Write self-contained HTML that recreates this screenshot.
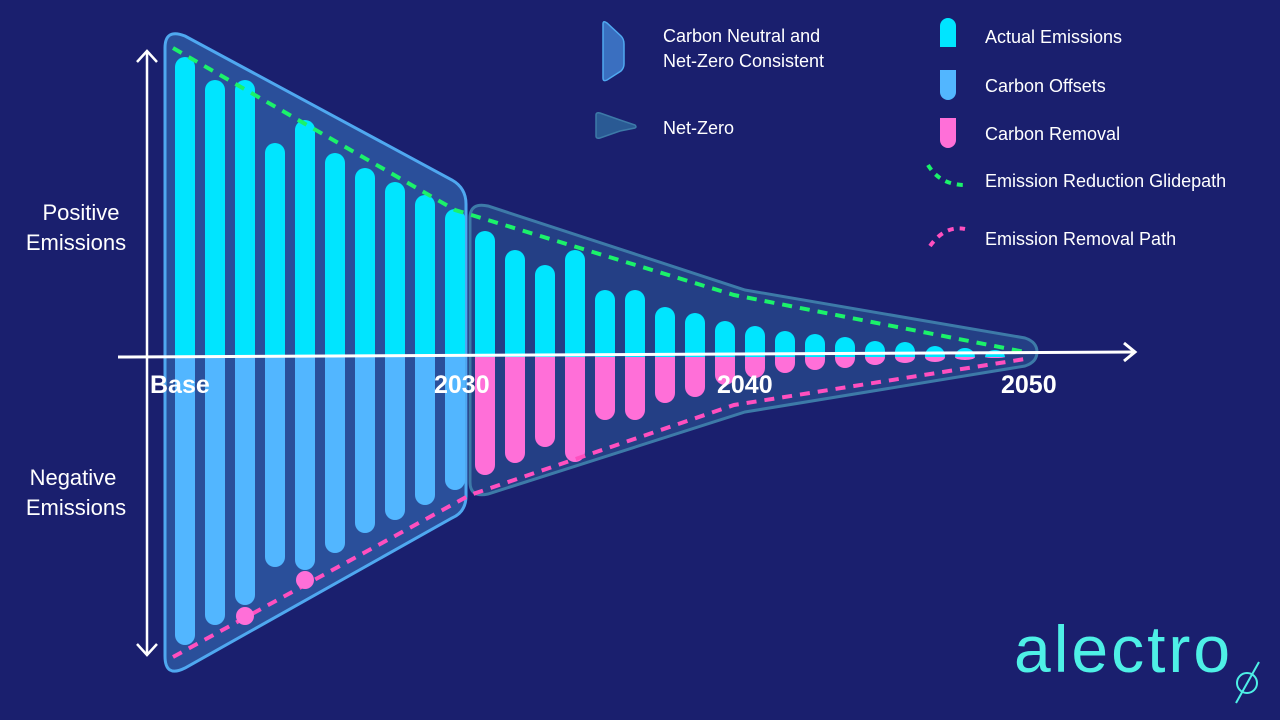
<!DOCTYPE html>
<html><head><meta charset="utf-8"><style>
html,body{margin:0;padding:0;background:#1a1f6e;}
#wrap{position:relative;width:1280px;height:720px;overflow:hidden;background:#1a1f6e;font-family:"Liberation Sans",sans-serif;}
svg text{font-family:"Liberation Sans",sans-serif;}
</style></head><body>
<div id="wrap">
<svg id="chart" width="1280" height="720" viewBox="0 0 1280 720">
  <g id="shapes">
    <path d="M165,48 Q165,28 185,36 L452,180 Q466,188 466,204 L466,496 Q466,512 452,518 L185,668 Q165,678 165,656 Z" fill="#2a4f9a" stroke="#4fa8f0" stroke-width="3"/>
    <path d="M470,218 Q470,202 488,206 L745,290 L1025,338 Q1037,342 1037,352 Q1037,362 1025,366 L745,412 L488,494 Q470,498 470,482 Z" fill="#243f85" stroke="#3d7aa8" stroke-width="3"/>
  </g>
  <g id="bars"></g>
  <g id="paths"></g>
  <g id="axes">
    <line x1="118" y1="357" x2="1134" y2="352" stroke="#fff" stroke-width="3"/>
    <polyline points="1124,343 1135,352 1124,361" fill="none" stroke="#fff" stroke-width="3"/>
    <line x1="147" y1="52" x2="147" y2="654" stroke="#fff" stroke-width="2.5"/>
    <polyline points="137,62 147,51 157,62" fill="none" stroke="#fff" stroke-width="2.5"/>
    <polyline points="137,644 147,655 157,644" fill="none" stroke="#fff" stroke-width="2.5"/>
    <text x="150" y="393" fill="#fff" font-size="25" font-weight="bold">Base</text>
    <text x="434" y="393" fill="#fff" font-size="25" font-weight="bold">2030</text>
    <text x="717" y="393" fill="#fff" font-size="25" font-weight="bold">2040</text>
    <text x="1001" y="393" fill="#fff" font-size="25" font-weight="bold">2050</text>
    <text fill="#fff" font-size="22" text-anchor="middle"><tspan x="81" y="220">Positive</tspan><tspan x="76" y="250">Emissions</tspan></text>
    <text fill="#fff" font-size="22" text-anchor="middle"><tspan x="73" y="485">Negative</tspan><tspan x="76" y="515">Emissions</tspan></text>
  </g>
  <g id="legend">
    <g>
      <path d="M603,24 Q603,20 607,23 L621,36 Q624,39 624,44 L624,64 Q624,68 621,71 L607,80 Q603,82 603,78 Z" fill="#3a6fc0" stroke="#4fa8f0" stroke-width="1.5"/>
      <text x="663" y="42" fill="#fff" font-size="18">Carbon Neutral and</text>
      <text x="663" y="67" fill="#fff" font-size="18">Net-Zero Consistent</text>
    </g>
    <g>
      <path d="M596,115 Q596,112 600,113 L620,120 L635,125 Q637,127 635,128 L620,131 L600,138 Q596,139 596,136 Z" fill="#2a5a94" stroke="#3d7aa8" stroke-width="1.5"/>
      <text x="663" y="134" fill="#fff" font-size="18">Net-Zero</text>
    </g>
    <g>
      <path d="M940,47 L940,26 A8,8 0 0 1 956,26 L956,47 Z" fill="#00e5ff"/>
      <text x="985" y="43" fill="#fff" font-size="18">Actual Emissions</text>
    </g>
    <g>
      <path d="M940,70 L956,70 L956,92 A8,8 0 0 1 940,92 Z" fill="#52b6ff"/>
      <text x="985" y="92" fill="#fff" font-size="18">Carbon Offsets</text>
    </g>
    <g>
      <path d="M940,118 L956,118 L956,140 A8,8 0 0 1 940,140 Z" fill="#ff6fd8"/>
      <text x="985" y="140" fill="#fff" font-size="18">Carbon Removal</text>
    </g>
    <g>
      <path d="M848,165 Q860,185 885,185 L888,184" transform="translate(80,0)" fill="none" stroke="#1bf26a" stroke-width="4" stroke-dasharray="6,6"/>
      <text x="985" y="187" fill="#fff" font-size="18">Emission Reduction Glidepath</text>
    </g>
    <g>
      <path d="M850,246 Q865,225 885,229" transform="translate(80,0)" fill="none" stroke="#ff4fbf" stroke-width="4" stroke-dasharray="6,6"/>
      <text x="985" y="245" fill="#fff" font-size="18">Emission Removal Path</text>
    </g>
  </g>
  <g>
    <text x="1014" y="672" fill="#4ef0e6" font-size="66" letter-spacing="3">alectro</text>
    <circle cx="1247" cy="683" r="10" fill="none" stroke="#4ef0e6" stroke-width="2"/>
    <line x1="1236" y1="703" x2="1259" y2="662" stroke="#4ef0e6" stroke-width="2"/>
  </g>
</svg>
</div>
<script>
const years = [0,1,2,3,4,5,6,7,8,9,10,11,12,13,14,15,16,17,18,19,20,21,22,23,24,25,26,27];
const actual = [300,277,277,214,237,204,189,175,162,148,126,107,92,107,67,67,50,44,36,31,26,23,20,16,15,11,9,7];
const offsets = [288,268,248,210,213,196,176,163,148,133,0,0,0,0,0,0,0,0,0,0,0,0,0,0,0,0,0,0];
const removal = [0,0,0,0,0,0,0,0,0,0,118,106,90,105,63,63,46,40,28,21,16,13,11,8,6,5,3,1];
const glideX = [-0.4,9,18.3,28];
const glideY = [309,147,62,5];
const removeX = [-0.4,9.5,18.3,28];
const removeY = [-300,-138,-48,-2];
const dotX = [2,4];
const dotY = [-259,-223];

const x0 = 185, step = 30, base = 357;
const xs = i => x0 + i*step;
const ys = v => base - v;
const bw = 20, r = 10;
const NS = "http://www.w3.org/2000/svg";
const barsG = document.getElementById('bars');
function bar(i, v, color, up, name){
  if (v <= 0) return;
  const x = xs(i) - bw/2, y0 = base, y1 = ys(up ? v : -v);
  const h = Math.abs(y1 - y0);
  const p = document.createElementNS(NS,'path');
  let d;
  const rr = Math.min(r, h);
  if (up) d = `M${x},${y0} L${x},${y1+rr} A${r},${rr} 0 0 1 ${x+bw},${y1+rr} L${x+bw},${y0} Z`;
  else d = `M${x},${y0} L${x},${y1-rr} A${r},${rr} 0 0 0 ${x+bw},${y1-rr} L${x+bw},${y0} Z`;
  p.setAttribute('d', d);
  p.setAttribute('fill', color);
  
  
  barsG.appendChild(p);
}
years.forEach((yr,i)=>{
  bar(i, actual[i], '#00e5ff', true, 'bar-actual-' + yr);
  bar(i, offsets[i], '#52b6ff', false, 'bar-offset-' + yr);
  bar(i, removal[i], '#ff6fd8', false, 'bar-removal-' + yr);
});
const pathsG = document.getElementById('paths');
function line(xArr, yArr, color, name){
  const p = document.createElementNS(NS,'polyline');
  p.setAttribute('points', xArr.map((v,i)=>xs(v)+','+ys(yArr[i])).join(' '));
  p.setAttribute('fill','none');
  p.setAttribute('stroke',color);
  p.setAttribute('stroke-width','4');
  p.setAttribute('stroke-dasharray','10,8');
  
  
  pathsG.appendChild(p);
}
line(glideX, glideY, '#1bf26a', 'glidepath-line');
line(removeX, removeY, '#ff4fbf', 'removal-path-line');
dotX.forEach((v,i)=>{
  const c = document.createElementNS(NS,'circle');
  c.setAttribute('cx', xs(v));
  c.setAttribute('cy', ys(dotY[i]));
  c.setAttribute('r', 9);
  c.setAttribute('fill', '#ff6fd8');
  
  
  pathsG.appendChild(c);
});
</script>
</body></html>
